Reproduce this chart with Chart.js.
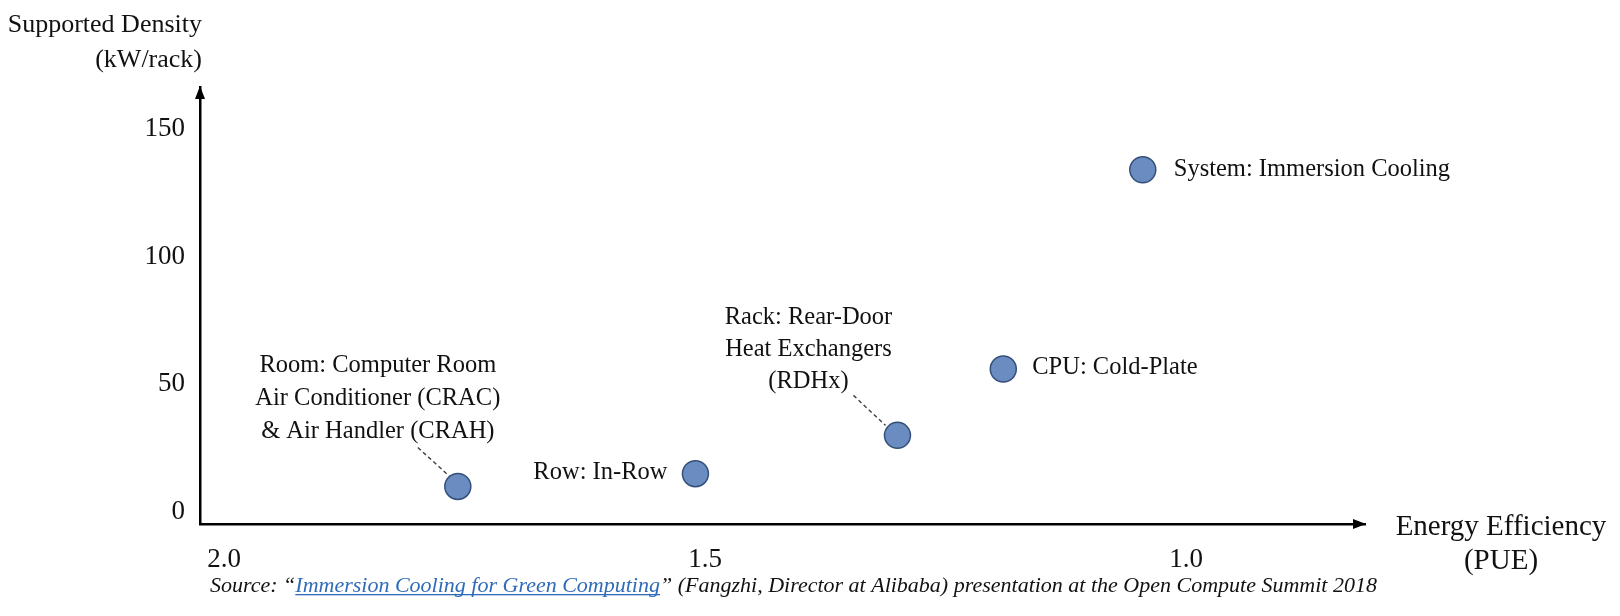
<!DOCTYPE html>
<html><head><meta charset="utf-8">
<script src="https://cdn.jsdelivr.net/npm/chart.js@4.4.0/dist/chart.umd.min.js"></script>
<style>html,body{margin:0;padding:0;background:#fff;} #wrap{width:1620px;height:616px;position:relative}</style>
</head><body><div id="wrap"><canvas id="c" width="1620" height="616"></canvas></div>
<script>
// ---- data ----
const categories = ["Room", "Row", "Rack", "CPU", "System"];
const pueValues = [1.757, 1.51, 1.30, 1.19, 1.045];
const densityValues = [10, 15, 30, 56, 134];
const xTickValues = [2.0, 1.5, 1.0];
const yTickValues = [0, 50, 100, 150];
const pointLabels = [
  ["Room: Computer Room", "Air Conditioner (CRAC)", "& Air Handler (CRAH)"],
  ["Row: In-Row"],
  ["Rack: Rear-Door", "Heat Exchangers", "(RDHx)"],
  ["CPU: Cold-Plate"],
  ["System: Immersion Cooling"]
];
const xAxisTitle = ["Energy Efficiency", "(PUE)"];
const yAxisTitle = ["Supported Density", "(kW/rack)"];
const sourcePrefix = "Source: \u201C";
const sourceLink = "Immersion Cooling for Green Computing";
const sourceSuffix = "\u201D (Fangzhi, Director at Alibaba) presentation at the Open Compute Summit 2018";

// ---- layout (pixel offsets of labels relative to their points) ----
const labelLayout = [
  {align: "center", dx: -80, dy: -121, lh: 33, leader: [-40, -39, -6, -8]},
  {align: "right", dx: -28, dy: -1, lh: 31},
  {align: "center", dx: -89, dy: -118, lh: 32, leader: [-44, -40, -12, -10]},
  {align: "left", dx: 29, dy: -1, lh: 31},
  {align: "left", dx: 31, dy: 0, lh: 31}
];
const SERIF = "'Liberation Serif', 'Times New Roman', serif";

const overlay = {
  id: "overlay",
  beforeDatasetsDraw(chart) {
    const ctx = chart.ctx;
    const meta = chart.getDatasetMeta(0);
    ctx.save();
    ctx.strokeStyle = "#404040";
    ctx.lineWidth = 1.4;
    ctx.setLineDash([4, 3]);
    meta.data.forEach((pt, i) => {
      const L = labelLayout[i];
      if (!L.leader) return;
      ctx.beginPath();
      ctx.moveTo(pt.x + L.leader[0], pt.y + L.leader[1]);
      ctx.lineTo(pt.x + L.leader[2], pt.y + L.leader[3]);
      ctx.stroke();
    });
    ctx.restore();
  },
  afterDraw(chart) {
    const ctx = chart.ctx;
    const a = chart.chartArea;
    const meta = chart.getDatasetMeta(0);
    ctx.save();
    // arrowheads
    ctx.fillStyle = "#000";
    ctx.beginPath();
    ctx.moveTo(a.left, a.top - 1);
    ctx.lineTo(a.left - 5, a.top + 12);
    ctx.lineTo(a.left + 5, a.top + 12);
    ctx.closePath();
    ctx.fill();
    ctx.beginPath();
    ctx.moveTo(a.right + 1, a.bottom);
    ctx.lineTo(a.right - 12, a.bottom - 5);
    ctx.lineTo(a.right - 12, a.bottom + 5);
    ctx.closePath();
    ctx.fill();

    // point labels
    ctx.fillStyle = "#111";
    ctx.textBaseline = "middle";
    ctx.font = "24.5px " + SERIF;
    meta.data.forEach((pt, i) => {
      const L = labelLayout[i];
      ctx.textAlign = L.align;
      pointLabels[i].forEach((line, j) => {
        ctx.fillText(line, pt.x + L.dx, pt.y + L.dy + j * L.lh);
      });
    });

    // y axis title
    ctx.font = "26px " + SERIF;
    ctx.textAlign = "right";
    ctx.fillText(yAxisTitle[0], a.left + 2, 25);
    ctx.fillText(yAxisTitle[1], a.left + 2, 60);

    // x axis title
    ctx.font = "29px " + SERIF;
    ctx.textAlign = "center";
    ctx.fillText(xAxisTitle[0], 1501, 527);
    ctx.fillText(xAxisTitle[1], 1501, 561);

    // source line
    ctx.font = "italic 22px " + SERIF;
    ctx.textAlign = "left";
    let x = 210;
    const y = 586;
    ctx.fillStyle = "#111";
    ctx.fillText(sourcePrefix, x, y);
    x += ctx.measureText(sourcePrefix).width;
    ctx.fillStyle = "#2f6bb8";
    ctx.fillText(sourceLink, x, y);
    const lw = ctx.measureText(sourceLink).width;
    ctx.fillRect(x, y + 8, lw, 1.3);
    x += lw;
    ctx.fillStyle = "#111";
    ctx.fillText(sourceSuffix, x, y);
    ctx.restore();
  }
};

new Chart(document.getElementById("c"), {
  type: "scatter",
  data: {
    labels: categories,
    datasets: [{
      label: "Cooling",
      data: pueValues.map((v, i) => ({x: v, y: densityValues[i]})),
      backgroundColor: "#6a8cc0",
      borderColor: "#34507a",
      borderWidth: 1.5,
      pointRadius: 13,
      pointHoverRadius: 13
    }]
  },
  options: {
    responsive: false,
    animation: false,
    devicePixelRatio: 1,
    layout: {padding: {left: 0, right: 255, top: 87, bottom: 0}},
    plugins: {legend: {display: false}, tooltip: {enabled: false}},
    scales: {
      x: {
        type: "linear",
        reverse: true,
        min: 0.814,
        max: 2.025,
        afterBuildTicks: s => { s.ticks = xTickValues.map(v => ({value: v})); },
        afterFit: s => { s.height = 92; },
        grid: {display: false, drawTicks: false},
        border: {display: true, color: "#000", width: 2.5},
        ticks: {
          padding: 20, maxRotation: 0, autoSkip: false, color: "#111",
          font: {family: SERIF, size: 27},
          callback: v => Number(v).toFixed(1)
        }
      },
      y: {
        type: "linear",
        min: -4.7,
        max: 166.4,
        afterBuildTicks: s => { s.ticks = yTickValues.map(v => ({value: v})); },
        afterFit: s => { s.width = 200; },
        grid: {display: false, drawTicks: false},
        border: {display: true, color: "#000", width: 2.5},
        ticks: {
          padding: 15, color: "#111",
          font: {family: SERIF, size: 27},
          callback: v => String(v)
        }
      }
    }
  },
  plugins: [overlay]
});
</script>
</body></html>
